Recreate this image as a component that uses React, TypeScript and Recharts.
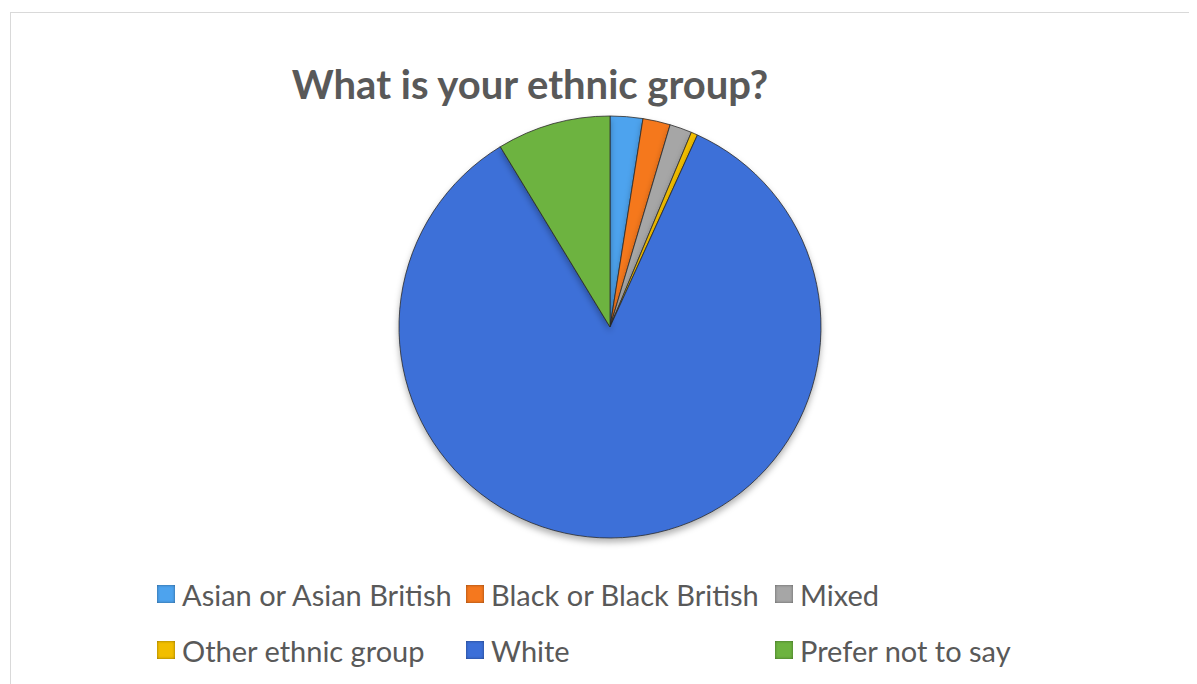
import { PieChart, Pie, Cell, Legend } from "recharts";

const categories = [
  "Asian or Asian British",
  "Black or Black British",
  "Mixed",
  "Other ethnic group",
  "White",
  "Prefer not to say",
];
const shares = [2.5, 2.1, 1.7, 0.5, 84.5, 8.7];
const colors = ["#4DA3EE", "#F5781E", "#A6A6A6", "#F2BE00", "#3C6FD8", "#6DB33F"];

const data = categories.map((name, i) => ({ name, value: shares[i] }));

const FONT = "Lato, 'Open Sans', sans-serif";

function LegendGrid() {
  return (
    <div style={{ position: "relative", width: 1189, height: 120 }}>
      {categories.map((name, i) => {
        const col = i % 3;
        const row = Math.floor(i / 3);
        return (
          <div
            key={name}
            style={{
              position: "absolute",
              left: 149 + col * 309,
              top: row * 56,
              display: "flex",
              alignItems: "center",
              height: 36,
              whiteSpace: "nowrap",
            }}
          >
            <span
              style={{
                display: "inline-block",
                width: 18,
                height: 18,
                background: colors[i],
                boxShadow: "inset 0 0 3px rgba(0,0,0,0.45)",
                marginRight: 7,
              }}
            />
            <span style={{ fontFamily: FONT, fontSize: 29, color: "#595959" }}>{name}</span>
          </div>
        );
      })}
    </div>
  );
}

export default function App() {
  return (
    <div style={{ position: "relative", width: 1189, height: 676, background: "#fff" }}>
      <div
        style={{
          position: "absolute",
          left: 2,
          top: 4,
          width: 1200,
          height: 700,
          border: "1.5px solid #d9d9d9",
          boxSizing: "border-box",
        }}
      />
      <div
        style={{
          position: "absolute",
          left: 0,
          width: 1044,
          top: 52,
          textAlign: "center",
          fontFamily: FONT,
          fontWeight: 700,
          fontSize: 40,
          color: "#595959",
          lineHeight: "48px",
        }}
      >
        What is your ethnic group?
      </div>
      <PieChart
        width={1189}
        height={676}
        margin={{ top: 0, right: 0, bottom: 0, left: 0 }}
        style={{ position: "absolute", left: 0, top: 0 }}
      >
        <defs>
          <filter id="pieShadow" x="-20%" y="-20%" width="140%" height="140%">
            <feDropShadow dx="0" dy="4" stdDeviation="3" floodColor="#000" floodOpacity="0.3" />
          </filter>
        </defs>
        <Pie
          data={data}
          dataKey="value"
          nameKey="name"
          cx={602}
          cy={319}
          outerRadius={211}
          startAngle={90}
          endAngle={-270}
          stroke="#2b2b2b"
          strokeWidth={0.8}
          isAnimationActive={false}
          style={{ filter: "url(#pieShadow)" }}
        >
          {data.map((d, i) => (
            <Cell key={d.name} fill={colors[i]} />
          ))}
        </Pie>
        <Legend
          content={() => <LegendGrid />}
          wrapperStyle={{ position: "absolute", left: 0, top: 568, width: 1189 }}
        />
      </PieChart>
    </div>
  );
}
